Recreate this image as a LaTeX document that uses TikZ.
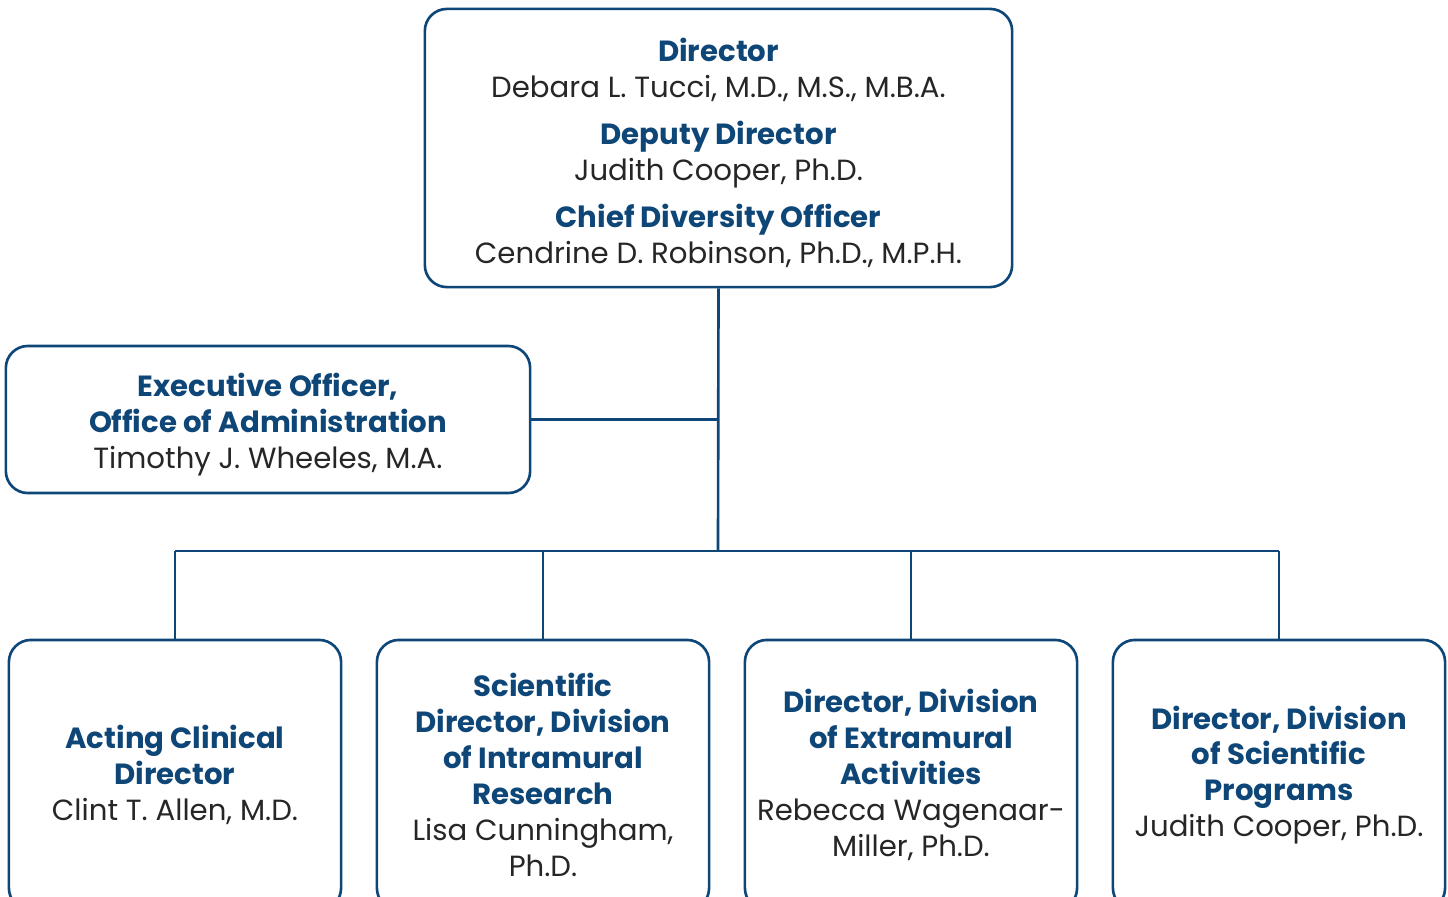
\documentclass[tikz,border=0pt]{standalone}
\usepackage{fontspec}
\setmainfont{Poppins}
\definecolor{nidblue}{HTML}{0E4677}
\definecolor{nidtext}{HTML}{262626}

\tikzstyle{unit} = [draw=nidblue, line width=0.75pt, rounded corners=2.2mm, align=center, inner sep=0mm, text=nidtext, font=\fontsize{8.3}{10.2}\selectfont]
\tikzstyle{wire} = [draw=nidblue, line width=0.75pt]
\newcommand{\ttl}[1]{{\bfseries\color{nidblue}#1}}
\newcommand{\lift}{\rule{0pt}{0.33cm}}

\begin{document}
\begin{tikzpicture}[x=0.01cm, y=-0.01cm]
	\useasboundingbox (0,0) rectangle (1448,896);
	%\draw[help lines] (0,0) grid[step=100] (1448,896);
	
	\node[unit, minimum width=5.87cm, minimum height=2.78cm] (top) at (718.5,148) {
		\lift\ttl{Director}\\ Debara L. Tucci, M.D., M.S., M.B.A.\\[1.1mm]
		\ttl{Deputy Director}\\ Judith Cooper, Ph.D.\\[1.1mm]
		\ttl{Chief Diversity Officer}\\ Cendrine D. Robinson, Ph.D., M.P.H.};
	
	\node[unit, minimum width=5.24cm, minimum height=1.47cm] (exec) at (268,419.5) {
		\lift\ttl{Executive Officer,}\\ \ttl{Office of Administration}\\ Timothy J. Wheeles, M.A.};
	
	\node[unit, minimum width=3.32cm, minimum height=2.7cm] (b1) at (175,775) {
		\ttl{Acting Clinical}\\ \ttl{Director}\\ Clint T. Allen, M.D.};
	\node[unit, minimum width=3.32cm, minimum height=2.7cm] (b2) at (543,775) {
		\ttl{Scientific}\\ \ttl{Director, Division}\\ \ttl{of Intramural}\\ \ttl{Research}\\ Lisa Cunningham,\\ Ph.D.};
	\node[unit, minimum width=3.32cm, minimum height=2.7cm] (b3) at (911,775) {
		\ttl{Director, Division}\\ \ttl{of Extramural}\\ \ttl{Activities}\\ Rebecca Wagenaar-\\ Miller, Ph.D.};
	\node[unit, minimum width=3.32cm, minimum height=2.7cm] (b4) at (1279,775) {
		\ttl{Director, Division}\\ \ttl{of Scientific}\\ \ttl{Programs}\\ Judith Cooper, Ph.D.};
	
	\coordinate (bus) at (718,551);
	
	\draw[wire] (top.south) -- (bus);
	\draw[wire] (exec.east) -- (exec.east -| top.south);
	\draw[wire] (b1.north |- bus) -- (b4.north |- bus);
	
	\foreach \n in {1,...,4}
	\draw[wire] (b\n.north |- bus) -- (b\n.north);
	
\end{tikzpicture}
\end{document}
